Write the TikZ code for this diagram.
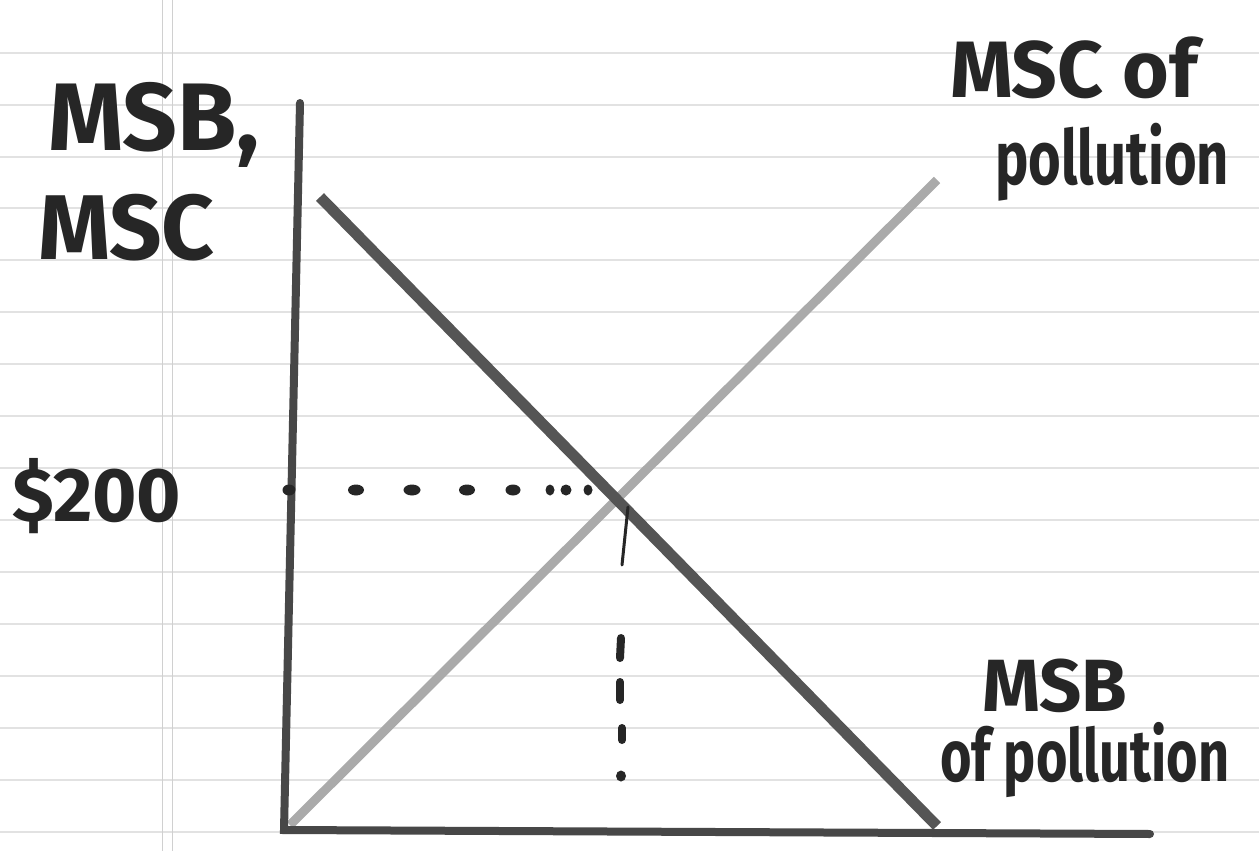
\documentclass[tikz,border=0pt]{standalone}
\usepackage{fontspec}
\setmainfont{Fira Sans}
\usetikzlibrary{shapes.geometric}
\definecolor{ink}{HTML}{262626}
\definecolor{msbcol}{HTML}{555555}
\definecolor{msccol}{HTML}{AAAAAA}
\definecolor{paperline}{HTML}{E2E2E2}
\definecolor{marginline}{HTML}{D0D0D0}
\tikzset{
  paperrule/.style={paperline, line width=1.2pt},
  marginrule/.style={marginline, line width=1pt},
  axisline/.style={ink!85, line width=8pt, line cap=round},
  msbline/.style={msbcol, line width=11pt, line cap=butt},
  mscline/.style={msccol, line width=9pt, line cap=butt},
  dotmark/.style={ellipse, fill=ink, inner sep=0pt, minimum width=#1, minimum height=11pt},
  dashmark/.style={ink, line width=8pt, line cap=round},
  hand/.style={text=ink, inner sep=0pt, font=\bfseries},
}
\begin{document}
\begin{tikzpicture}[x=1pt,y=-1pt]
\useasboundingbox (0,0) rectangle (1259,851);
\fill[white] (0,0) rectangle (1259,851);
% ruled paper
\foreach \yy in {53,105,157,208,260,312,364,416,468,520,572,624,676,728,780,832}
  \draw[paperrule] (0,\yy) -- (1259,\yy);
\draw[marginrule] (162,0) -- (162,851);
\draw[marginrule] (172,0) -- (172,851);
% key coordinates
\coordinate (ytop) at (300,103);
\coordinate (origin) at (284,830);
\coordinate (xend) at (1150,834);
\coordinate (msbstart) at (320,197);
\coordinate (msbend) at (937,826);
\coordinate (mscstart) at (290,825);
\coordinate (mscend) at (937,180);
% curves
\draw[mscline] (mscstart) -- (mscend);
\draw[msbline] (msbstart) -- (msbend);
% axes
\draw[axisline] (ytop) -- (origin) -- (xend);
% horizontal dotted line
\foreach \xx/\w in {289/13pt,356/16pt,412/17pt,467/16pt,513/15pt,550/9pt,566/11pt,588/9pt}
  \node[dotmark=\w] at (\xx,490) {};
% vertical dashed line
\coordinate (v1a) at (628,507);
\coordinate (v1b) at (622,565);
\draw[ink, line width=3pt, line cap=round] (v1a) -- (v1b);
\draw[dashmark] (621,638) -- (620,658);
\draw[dashmark] (620,682) -- (620,700);
\draw[dashmark] (622,728) -- (622,740);
\node[dotmark=10pt] at (621,776) {};
% labels
\node[hand, anchor=west, font=\bfseries\fontsize{96}{96}\selectfont] (lmsb) at (48,125) {MSB,};
\node[hand, anchor=west, font=\bfseries\fontsize{92}{92}\selectfont] (lmsc) at (38,228) {MSC};
\node[hand, anchor=west, font=\bfseries\fontsize{76}{76}\selectfont] (l200) at (12,496) {\$200};
\node[hand, anchor=west, font=\bfseries\fontsize{80}{80}\selectfont] (rmsc1) at (950,68) {MSC of};
\node[hand, anchor=west, font=\bfseries\fontsize{56}{56}\selectfont] (rmsc2) at (995,162) {\scalebox{1}[1.35]{pollution}};
\node[hand, anchor=west, font=\bfseries\fontsize{74}{74}\selectfont] (rmsb1) at (982,686) {MSB};
\node[hand, anchor=west, font=\bfseries\fontsize{54}{54}\selectfont] (rmsb2) at (940,760) {\scalebox{1}[1.35]{of pollution}};
\end{tikzpicture}
\end{document}
